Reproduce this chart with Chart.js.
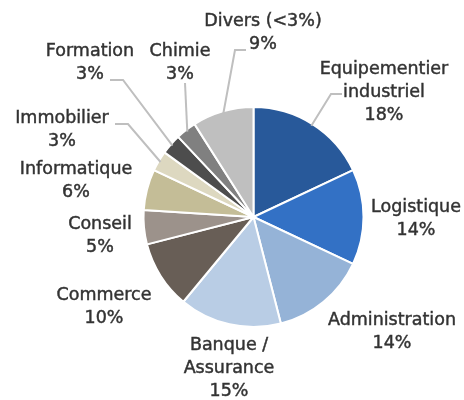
<!DOCTYPE html>
<html>
<head>
<meta charset="utf-8">
<script src="https://cdn.jsdelivr.net/npm/chart.js@4/dist/chart.umd.min.js"></script>
<style>
  html, body { margin: 0; padding: 0; background: #fff; }
  #wrap { width: 464px; height: 400px; }
</style>
</head>
<body>
<div id="wrap"><canvas id="myChart" width="464" height="400"></canvas></div>
<script>
'use strict';

// data
let categories = [
  ['Equipementier', 'industriel'],
  ['Logistique'],
  ['Administration'],
  ['Banque /', 'Assurance'],
  ['Commerce'],
  ['Conseil'],
  ['Informatique'],
  ['Immobilier'],
  ['Formation'],
  ['Chimie'],
  ['Divers (<3%)']
];
let shares = [18, 14, 14, 15, 10, 5, 6, 3, 3, 3, 9];

let colors = [
  '#28599A', '#3371C5', '#95B3D7', '#B9CDE5', '#685E56', '#9C928B',
  '#C4BD97', '#DDD8C0', '#4D4D4D', '#808080', '#BFBFBF'
];

// where each label block sits (center x, first line y)
let labelPos = [
  [384, 69], [416, 207], [392, 320], [229, 345], [104, 295], [100, 224],
  [76, 169], [62, 118], [90, 51], [180, 51], [263, 21]
];
// leader lines: elbow point then end point (null = no line)
let leaders = [
  [[331, 94], [342, 94]], null, null, null, null, null, null,
  [[128, 124], [115, 124]],
  [[123, 80], [110, 80]],
  [[185, 83], [185, 83]],
  [[235, 50], [246, 50]]
];

let labelPlugin = {
  id: 'pieLabels',
  afterDatasetsDraw(chart) {
    let ctx = chart.ctx;
    let arcs = chart.getDatasetMeta(0).data;
    ctx.save();
    ctx.strokeStyle = '#BFBFBF';
    ctx.lineWidth = 2;
    for (let i = 0; i < arcs.length; i++) {
      if (!leaders[i]) continue;
      let a = arcs[i];
      let mid = (a.startAngle + a.endAngle) / 2;
      let sx = a.x + Math.cos(mid) * (a.outerRadius - 2);
      let sy = a.y + Math.sin(mid) * (a.outerRadius - 2);
      ctx.beginPath();
      ctx.moveTo(sx, sy);
      ctx.lineTo(leaders[i][0][0], leaders[i][0][1]);
      ctx.lineTo(leaders[i][1][0], leaders[i][1][1]);
      ctx.stroke();
    }
    // text a touch heavier, like the original
    ctx.fillStyle = '#333333';
    ctx.strokeStyle = '#333333';
    ctx.lineWidth = 0.45;
    ctx.font = '17.5px "DejaVu Sans", Verdana, sans-serif';
    ctx.textAlign = 'center';
    ctx.textBaseline = 'middle';
    for (let i = 0; i < categories.length; i++) {
      let lines = categories[i].concat([shares[i] + '%']);
      for (let j = 0; j < lines.length; j++) {
        let y = labelPos[i][1] + j * 23;
        ctx.fillText(lines[j], labelPos[i][0], y);
        ctx.strokeText(lines[j], labelPos[i][0], y);
      }
    }
    ctx.restore();
  }
};

let ctx = document.getElementById('myChart').getContext('2d');

new Chart(ctx, {
  type: 'pie',
  data: {
    labels: categories.map(function (c) { return c.join(' '); }),
    datasets: [{
      data: shares,
      backgroundColor: colors,
      borderColor: '#FFFFFF',
      borderWidth: 2
    }]
  },
  options: {
    responsive: false,
    animation: false,
    layout: { padding: { left: 142, right: 99, top: 106, bottom: 72 } },
    plugins: {
      legend: { display: false },
      tooltip: { enabled: false }
    }
  },
  plugins: [labelPlugin]
});
</script>
</body>
</html>
